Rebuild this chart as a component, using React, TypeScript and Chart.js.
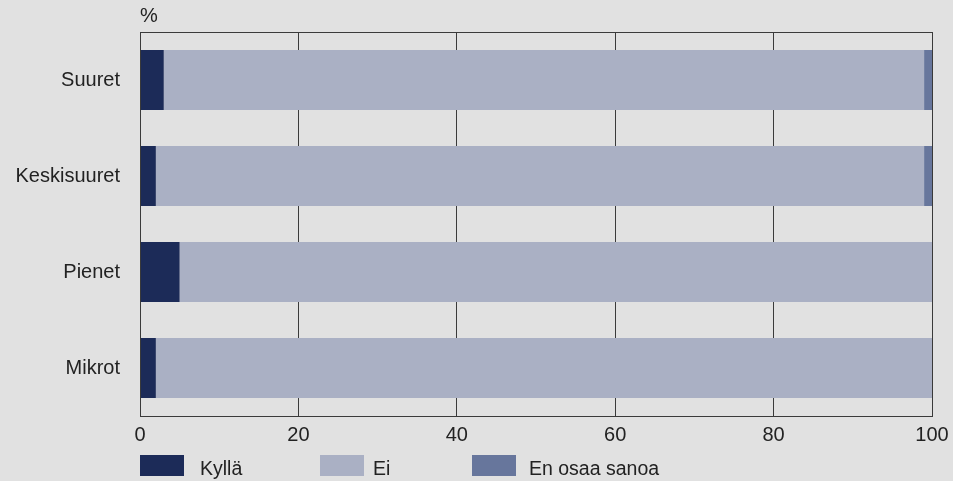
import React, { useEffect, useRef } from "react";
import { Chart, registerables } from "chart.js";

Chart.register(...registerables);

const categories = ["Suuret", "Keskisuuret", "Pienet", "Mikrot"];
const kylla = [3, 2, 5, 2];
const ei = [96, 97, 95, 98];
const eos = [1, 1, 0, 0];
const seriesLabels = ["Kyllä", "Ei", "En osaa sanoa"];
const colors = ["#1c2b58", "#aab0c4", "#67769c"];
const xTicks = [0, 20, 40, 60, 80, 100];
const unitLabel = "%";

const FONT = "'Liberation Sans', Arial, sans-serif";

export default function App() {
  const ref = useRef<HTMLCanvasElement>(null);
  useEffect(() => {
    document.body.style.margin = "0";
    document.body.style.background = "#e1e1e1";
    const canvas = ref.current!;
    const overlay = {
      id: "overlay",
      afterDraw(chart: any) {
        const ctx = chart.ctx;
        const a = chart.chartArea;
        ctx.save();
        ctx.strokeStyle = "#3a3a3a";
        ctx.lineWidth = 1;
        ctx.strokeRect(Math.round(a.left) + 0.5, Math.round(a.top) + 0.5, Math.round(a.right - a.left), Math.round(a.bottom - a.top));
        ctx.fillStyle = "#222";
        ctx.font = `20px ${FONT}`;
        ctx.textBaseline = "alphabetic";
        ctx.textAlign = "left";
        ctx.fillText(unitLabel, a.left, a.top - 10);
        ctx.font = `19.5px ${FONT}`;
        const offsets = [0, 180, 332];
        const textOffsets = [60, 53, 57];
        chart.data.datasets.forEach((ds: any, i: number) => {
          const x = a.left + offsets[i];
          const y = a.bottom + 39;
          ctx.fillStyle = ds.backgroundColor;
          ctx.fillRect(x, y, 44, 21);
          ctx.fillStyle = "#222";
          ctx.fillText(ds.label, x + textOffsets[i], y + 20);
        });
        ctx.restore();
      },
    };
    const chart = new Chart(canvas, {
      type: "bar",
      data: {
        labels: categories,
        datasets: [
          { label: seriesLabels[0], data: kylla, backgroundColor: colors[0] },
          { label: seriesLabels[1], data: ei, backgroundColor: colors[1] },
          { label: seriesLabels[2], data: eos, backgroundColor: colors[2] },
        ].map((d) => ({ ...d, barPercentage: 0.625, categoryPercentage: 1, borderWidth: 0 })),
      },
      options: {
        indexAxis: "y",
        animation: false,
        responsive: false,
        layout: { padding: { left: 0, top: 32, right: 21, bottom: 0 } },
        plugins: { legend: { display: false }, tooltip: { enabled: false } },
        scales: {
          x: {
            stacked: true,
            min: 0,
            max: 100,
            afterBuildTicks(scale: any) {
              scale.ticks = xTicks.map((v) => ({ value: v }));
            },
            afterFit(scale: any) {
              scale.height = 65;
              scale.paddingRight = 0;
              scale.paddingLeft = 0;
            },
            grid: { color: "#3a3a3a", drawTicks: false, lineWidth: 1 },
            border: { display: false },
            ticks: { color: "#222", font: { family: FONT, size: 20 }, padding: 7, maxRotation: 0 },
          },
          y: {
            stacked: true,
            afterFit(scale: any) {
              scale.width = 140;
            },
            grid: { display: false, drawTicks: false },
            border: { display: true, color: "#3a3a3a" },
            ticks: { color: "#222", font: { family: FONT, size: 20 }, padding: 20 },
          },
        },
      },
      plugins: [overlay],
    } as any);
    return () => chart.destroy();
  }, []);
  return (
    <div style={{ width: 953, height: 481, background: "#e1e1e1" }}>
      <canvas ref={ref} width={953} height={481} />
    </div>
  );
}
